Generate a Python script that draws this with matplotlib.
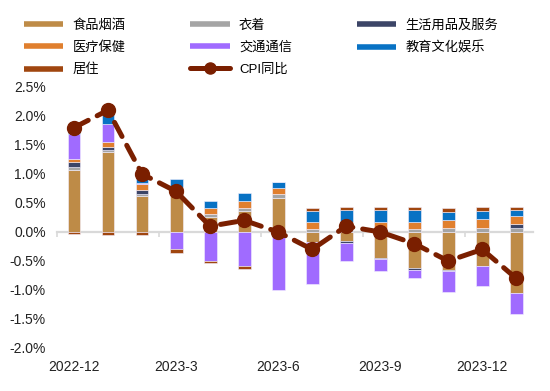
import numpy as np
import matplotlib.pyplot as plt
from matplotlib.lines import Line2D

plt.rcParams['font.family'] = ['Liberation Sans', 'Noto Sans CJK SC', 'DejaVu Sans']

# === data (percentage points) ===
months = ["2022-12", "2023-1", "2023-2", "2023-3", "2023-4", "2023-5", "2023-6",
          "2023-7", "2023-8", "2023-9", "2023-10", "2023-11", "2023-12", "2024-1"]
food = [1.07, 1.38, 0.62, 0.62, 0.26, 0.37, 0.59, -0.17, -0.16, -0.45, -0.62, -0.65, -0.59, -1.06]
clothing = [0.05, 0.03, 0.04, 0.02, 0.05, 0.04, 0.07, 0.06, 0.06, 0.06, 0.06, 0.07, 0.07, 0.07]
household = [0.08, 0.06, 0.07, 0.0, 0.0, 0.0, 0.0, 0.0, -0.03, -0.02, -0.03, -0.02, 0.0, 0.06]
medical = [0.06, 0.08, 0.09, 0.13, 0.10, 0.12, 0.09, 0.11, 0.12, 0.11, 0.11, 0.13, 0.15, 0.14]
transport = [0.43, 0.31, 0.03, -0.30, -0.50, -0.58, -1.00, -0.72, -0.31, -0.20, -0.14, -0.36, -0.34, -0.36]
education = [0.10, 0.20, 0.12, 0.14, 0.13, 0.14, 0.12, 0.19, 0.20, 0.21, 0.21, 0.14, 0.14, 0.11]
housing = [-0.04, -0.06, -0.06, -0.06, -0.04, -0.06, 0.0, 0.06, 0.05, 0.05, 0.05, 0.07, 0.07, 0.05]
cpi = [1.8, 2.1, 1.0, 0.7, 0.1, 0.2, 0.0, -0.3, 0.1, 0.0, -0.2, -0.5, -0.3, -0.8]

series = [
    ("食品烟酒", food, "#BE8B47"),
    ("衣着", clothing, "#A5A5A5"),
    ("生活用品及服务", household, "#3C4567"),
    ("医疗保健", medical, "#E07F2E"),
    ("交通通信", transport, "#A06BFF"),
    ("教育文化娱乐", education, "#0872C4"),
    ("居住", housing, "#A0460F"),
]
cpi_color = "#7A1F00"

fig = plt.figure(figsize=(5.5, 3.91), dpi=100)
ax = fig.add_axes([0.1036, 0.110, 0.866, 0.6675])

x = np.arange(len(months))
pos_base = np.zeros(len(months))
neg_base = np.zeros(len(months))
for name, vals, color in series:
    v = np.array(vals)
    base = np.where(v >= 0, pos_base, neg_base)
    ax.bar(x, v, 0.38, bottom=base, color=color, edgecolor="#F4F0FF", linewidth=0.4, zorder=2)
    pos_base += np.where(v >= 0, v, 0)
    neg_base += np.where(v < 0, v, 0)

ax.plot(x, cpi, color=cpi_color, lw=3.6, dashes=(3.2, 2.0), dash_capstyle="round",
        marker="o", markersize=10, zorder=4)

ymin, ymax = -2.0, 2.5
ax.set_xlim(-0.5, len(months) - 0.5)
ax.set_ylim(ymin, ymax)
ax.set_yticks(np.arange(-2.0, 2.51, 0.5))
ax.set_yticklabels([f"{t:.1f}%" for t in np.arange(-2.0, 2.51, 0.5)], fontsize=10, color="#222222")
ax.set_xticks(x[::3])
ax.set_xticklabels(months[::3], fontsize=10, color="#222222")
ax.tick_params(axis="both", length=0)
ax.tick_params(axis="x", pad=9)
ax.tick_params(axis="y", pad=8)
for s in ax.spines.values():
    s.set_visible(False)

# zero line with category tick marks every 3 months
zero_ax = ax.secondary_xaxis((0 - ymin) / (ymax - ymin))
zero_ax.spines["bottom"].set_color("#D9D9D9")
zero_ax.spines["bottom"].set_linewidth(1.6)
zero_ax.set_xticks(np.arange(-0.5, len(months), 3))
zero_ax.set_xticklabels([])
zero_ax.tick_params(axis="x", length=3.5, width=1.2, color="#D9D9D9", direction="out")

# legend
handles = [Line2D([], [], color=c, lw=4, solid_capstyle="butt") for _, _, c in series]
labels = [n for n, _, _ in series]
cpi_handle = Line2D([], [], color=cpi_color, lw=3.6, dashes=(3.2, 2.0), dash_capstyle="round",
                    marker="o", markersize=8)
order_h = [handles[0], handles[3], handles[6], handles[1], handles[4], cpi_handle, handles[2], handles[5]]
order_l = [labels[0], labels[3], labels[6], labels[1], labels[4], "CPI同比", labels[2], labels[5]]
fig.legend(order_h, order_l, ncol=3, loc="upper left", bbox_to_anchor=(0.043, 0.951),
           frameon=False, fontsize=9.5, handlelength=3.0, handletextpad=0.7,
           columnspacing=4.9, labelspacing=0.74, borderpad=0, borderaxespad=0)

fig.savefig("out.png", dpi=100)
